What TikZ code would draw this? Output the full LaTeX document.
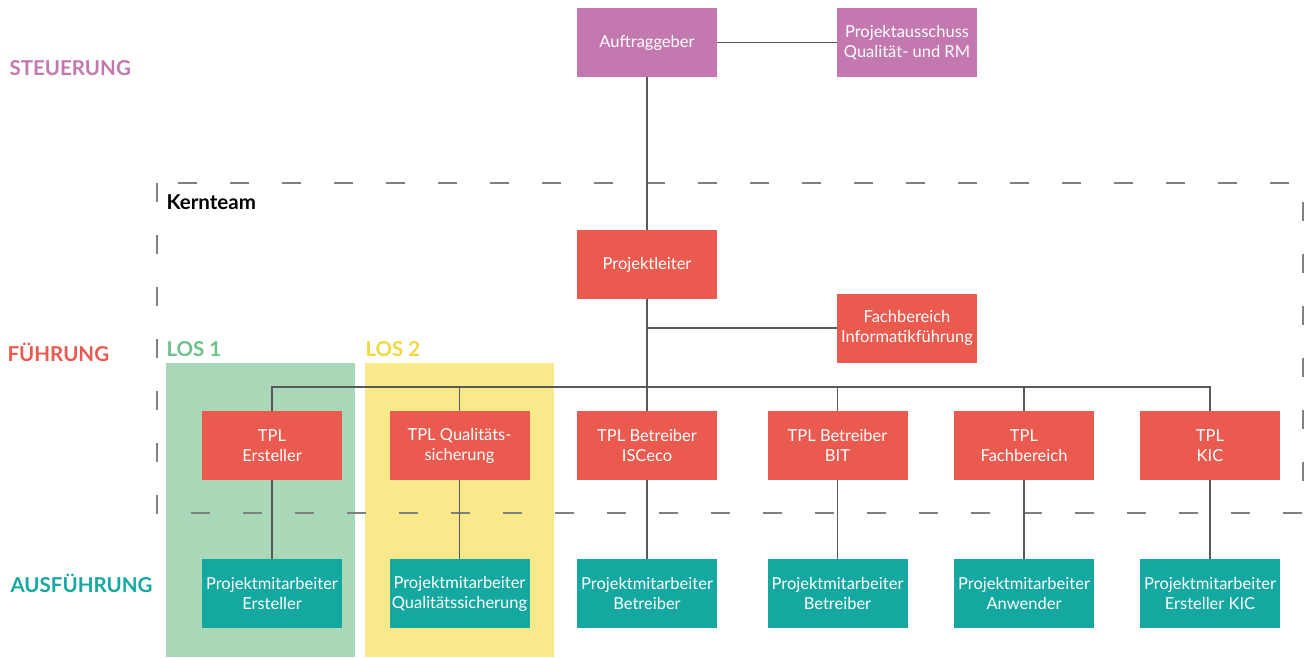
\documentclass[tikz,border=0pt]{standalone}
\usepackage{fontspec}
\setmainfont{Lato}
\definecolor{steuer}{HTML}{C478B0}
\definecolor{fuehr}{HTML}{EA5A4F}
\definecolor{ausf}{HTML}{14A8A0}
\definecolor{losgruen}{HTML}{A9D8B8}
\definecolor{losgelb}{HTML}{F9E98A}
\definecolor{losgruentext}{HTML}{6CC28A}
\definecolor{losgelbtext}{HTML}{F2D93F}
\tikzset{
  box/.style={minimum width=140pt, minimum height=69pt, inner sep=0pt,
    text=white, align=center, font=\fontsize{16.5}{20}\selectfont},
  level/.style={anchor=west, font=\fontsize{20.5}{22}\selectfont\bfseries},
  link/.style={draw=black!65, line width=1.2pt}
}
\begin{document}
\begin{tikzpicture}[x=1pt, y=-1pt]
   \useasboundingbox (0,0) rectangle (1309,657);
   % Lose
   \fill[losgruen] (166,363) rectangle (355,657);
   \fill[losgelb] (365,363) rectangle (554,657);
   \node[level, text=losgruentext] (los1) at (163,349) {LOS 1};
   \node[level, text=losgelbtext] (los2) at (362,349) {LOS 2};
   % Kernteam
   \draw[black!50, line width=1.3pt, dash pattern=on 19pt off 33pt] (157,183) rectangle (1303,513);
   \node[level, text=black, font=\fontsize{20.5}{22}\selectfont\bfseries] (kern) at (163,202) {Kernteam};
   % Ebenen
   \node[level, text=steuer] (steuerung) at (6,68) {STEUERUNG};
   \node[level, text=fuehr] (fuehrung) at (4,352) {FÜHRUNG};
   \node[level, text=ausf] (ausfuehrung) at (7,583) {AUSFÜHRUNG};
   % Steuerung
   \node[box, fill=steuer] (ag) at (647,42.5) {Auftraggeber};
   \node[box, fill=steuer] (pa) at (907,42.5) {Projektausschuss\\Qualität- und RM};
   % Fuehrung
   \node[box, fill=fuehr] (pl) at (647,264.5) {Projektleiter};
   \node[box, fill=fuehr] (fi) at (907,328) {Fachbereich\\Informatikführung};
   \node[box, fill=fuehr] (tpler) at (272,445.5) {TPL\\Ersteller};
   \node[box, fill=fuehr] (tplqs) at (459.5,445.5) {TPL Qualitäts-\\sicherung};
   \node[box, fill=fuehr] (tplis) at (647,445.5) {TPL Betreiber\\ISCeco};
   \node[box, fill=fuehr] (tplbit) at (837.5,445.5) {TPL Betreiber\\BIT};
   \node[box, fill=fuehr] (tplfb) at (1024,445.5) {TPL\\Fachbereich};
   \node[box, fill=fuehr] (tplkic) at (1210,445.5) {TPL\\KIC};
   % Ausfuehrung
   \node[box, fill=ausf] (pmer) at (272,593.5) {Projektmitarbeiter\\Ersteller};
   \node[box, fill=ausf] (pmqs) at (459.5,593.5) {Projektmitarbeiter\\Qualitätssicherung};
   \node[box, fill=ausf] (pmis) at (647,593.5) {Projektmitarbeiter\\Betreiber};
   \node[box, fill=ausf] (pmbit) at (837.5,593.5) {Projektmitarbeiter\\Betreiber};
   \node[box, fill=ausf] (pmfb) at (1024,593.5) {Projektmitarbeiter\\Anwender};
   \node[box, fill=ausf] (pmkic) at (1210,593.5) {Projektmitarbeiter\\Ersteller KIC};
   % Verbindungen
   \coordinate (bus) at (647,387);
   \coordinate (abzweig) at (647,328);
   \draw[link] (ag) -- (pa);
   \draw[link] (ag) -- (pl);
   \draw[link] (pl) -- (tplis);
   \draw[link] (abzweig) -- (fi.west);
   \draw[link] (tpler.north) |- (bus) -| (tplkic.north);
   \draw[link] (tplqs.north) -- (tplqs.north |- bus);
   \draw[link] (tplbit.north) -- (tplbit.north |- bus);
   \draw[link] (tplfb.north) -- (tplfb.north |- bus);
   \draw[link] (tpler) -- (pmer);
   \draw[link] (tplqs) -- (pmqs);
   \draw[link] (tplis) -- (pmis);
   \draw[link] (tplbit) -- (pmbit);
   \draw[link] (tplfb) -- (pmfb);
   \draw[link] (tplkic) -- (pmkic);
\end{tikzpicture}
\end{document}
